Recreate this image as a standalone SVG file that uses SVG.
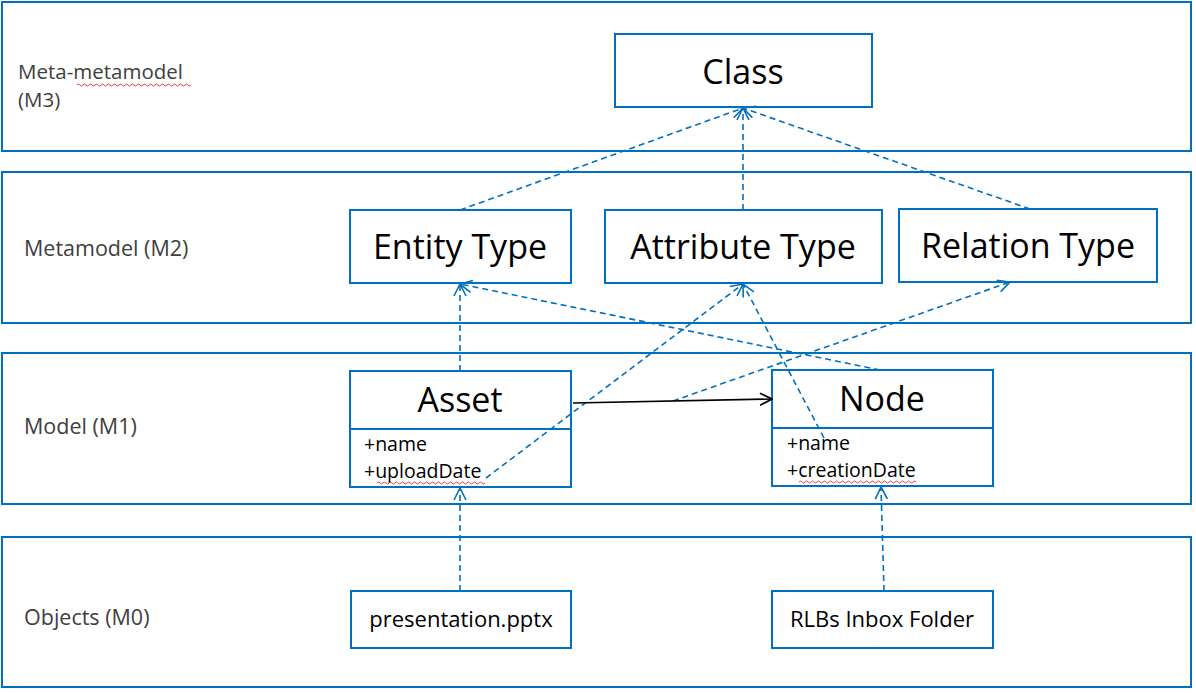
<svg xmlns="http://www.w3.org/2000/svg" width="1196" height="693" viewBox="0 0 1196 693">
<style>
.band{fill:#fff;stroke:#0070C0;stroke-width:2}
.box{fill:#fff;stroke:#0070C0;stroke-width:2}
.lbl{font-family:"Open Sans","Noto Sans",sans-serif;font-size:21.5px;fill:#404040}
.lbl3{font-family:"Open Sans","Noto Sans",sans-serif;font-size:20.5px;fill:#404040}
.big{font-family:"Open Sans","Noto Sans",sans-serif;font-size:34px;fill:#000;text-anchor:middle}
.attr{font-family:"Open Sans","Noto Sans",sans-serif;font-size:19.5px;fill:#000}
.obj{font-family:"Open Sans","Noto Sans",sans-serif;font-size:22px;fill:#000;text-anchor:middle}
.dash{fill:none;stroke:#0070C0;stroke-width:1.6;stroke-dasharray:6 4;marker-end:url(#open)}
.assoc{fill:none;stroke:#000;stroke-width:1.6;marker-end:url(#openK)}
.sq{fill:none;stroke:#e03030;stroke-width:0.9}
</style>
<defs>
<marker id="open" viewBox="0 0 14 14" refX="13" refY="7" markerWidth="14" markerHeight="14" markerUnits="userSpaceOnUse" orient="auto">
<path d="M1,1 L13,7 L1,13" fill="none" stroke="#0070C0" stroke-width="1.6"/>
</marker>
<marker id="openK" viewBox="0 0 14 14" refX="13" refY="7" markerWidth="14" markerHeight="14" markerUnits="userSpaceOnUse" orient="auto">
<path d="M1,1 L13,7 L1,13" fill="none" stroke="#000" stroke-width="1.6"/>
</marker>
</defs>

<g id="layers">
<rect class="band" x="2" y="2" width="1189" height="149"/>
<rect class="band" x="2" y="172" width="1189" height="151"/>
<rect class="band" x="2" y="353" width="1189" height="151"/>
<rect class="band" x="2" y="537" width="1189" height="150"/>
<text class="lbl3" x="18" y="79">Meta-metamodel</text>
<text class="lbl3" x="18" y="107">(M3)</text>
<text class="lbl" x="24" y="256">Metamodel (M2)</text>
<text class="lbl" x="24" y="434">Model (M1)</text>
<text class="lbl" x="24" y="625">Objects (M0)</text>
<path class="sq" d="M77,85 q1.5,-2 3,0 t3,0 t3,0 t3,0 t3,0 t3,0 t3,0 t3,0 t3,0 t3,0 t3,0 t3,0 t3,0 t3,0 t3,0 t3,0 t3,0 t3,0 t3,0 t3,0 t3,0 t3,0 t3,0 t3,0 t3,0 t3,0 t3,0 t3,0 t3,0 t3,0 t3,0 t3,0 t3,0 t3,0 t3,0 t3,0 t3,0 t3,0"/>
</g>

<g id="class">
<rect class="box" x="615" y="34" width="257" height="73"/>
<text class="big" x="743" y="84">Class</text>
</g>
<g id="entity-type">
<rect class="box" x="350" y="210" width="221" height="73"/>
<text class="big" x="460" y="259">Entity Type</text>
</g>
<g id="attribute-type">
<rect class="box" x="605" y="210" width="277" height="73"/>
<text class="big" x="743" y="259">Attribute Type</text>
</g>
<g id="relation-type">
<rect class="box" x="899" y="209" width="258" height="73"/>
<text class="big" x="1028" y="258">Relation Type</text>
</g>
<g id="asset">
<rect class="box" x="350" y="371" width="221" height="116"/>
<line x1="350" y1="429" x2="571" y2="429" stroke="#0070C0" stroke-width="2"/>
<text class="big" x="460" y="412">Asset</text>
<text class="attr" x="364" y="451">+name</text>
<text class="attr" x="364" y="478">+uploadDate</text>
<path class="sq" d="M377,483 q1.5,-2 3,0 t3,0 t3,0 t3,0 t3,0 t3,0 t3,0 t3,0 t3,0 t3,0 t3,0 t3,0 t3,0 t3,0 t3,0 t3,0 t3,0 t3,0 t3,0 t3,0 t3,0 t3,0 t3,0 t3,0 t3,0 t3,0 t3,0 t3,0 t3,0 t3,0 t3,0 t3,0 t3,0 t3,0 t3,0 t3,0"/>
</g>
<g id="node">
<rect class="box" x="772" y="370" width="221" height="116"/>
<line x1="772" y1="428" x2="993" y2="428" stroke="#0070C0" stroke-width="2"/>
<text class="big" x="882" y="411">Node</text>
<text class="attr" x="787" y="450">+name</text>
<text class="attr" x="787" y="477">+creationDate</text>
<path class="sq" d="M799,482 q1.5,-2 3,0 t3,0 t3,0 t3,0 t3,0 t3,0 t3,0 t3,0 t3,0 t3,0 t3,0 t3,0 t3,0 t3,0 t3,0 t3,0 t3,0 t3,0 t3,0 t3,0 t3,0 t3,0 t3,0 t3,0 t3,0 t3,0 t3,0 t3,0 t3,0 t3,0 t3,0 t3,0 t3,0 t3,0 t3,0 t3,0 t3,0 t3,0 t3,0"/>
</g>
<g id="presentation">
<rect class="box" x="351" y="591" width="220" height="57"/>
<text class="obj" x="461" y="627">presentation.pptx</text>
</g>
<g id="rlbs-inbox">
<rect class="box" x="772" y="591" width="221" height="57"/>
<text class="obj" x="882" y="627">RLBs Inbox Folder</text>
</g>

<g id="connectors">
<path class="dash" d="M460,210 L743,108"/>
<path class="dash" d="M743,210 L743,108"/>
<path class="dash" d="M1030,209 L743,108"/>
<path class="dash" d="M460,371 L460,284"/>
<path class="dash" d="M880,370 L460,284"/>
<path class="dash" d="M486,478 L743,284"/>
<path class="dash" d="M824,438 L743,284"/>
<path class="dash" d="M673,401 L1010,282"/>
<path class="dash" d="M460,591 L460,488"/>
<path class="dash" d="M884,591 L881,487"/>
<path class="assoc" d="M573,403 L772,399"/>
</g>
</svg>
